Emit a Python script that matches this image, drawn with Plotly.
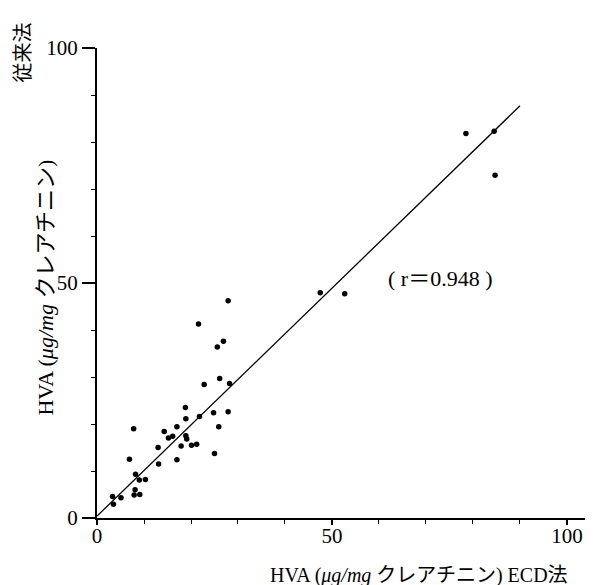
import plotly.graph_objects as go

# ECD method (x) vs conventional method (y), HVA μg/mg creatinine
ecd = [3.3, 3.5, 5.1, 7.9, 8.1, 9.1, 8.2, 9.0, 10.3, 6.9, 13.1, 17.0, 7.8,
       13.0, 17.9, 20.1, 21.2, 25.0, 14.3, 15.2, 16.1, 17.0, 18.9, 19.1, 25.9,
       18.8, 18.9, 21.8, 24.8, 27.9, 22.8, 26.1, 28.2, 25.6, 26.9, 21.6, 27.9,
       47.5, 52.7, 78.5, 84.5, 84.7]
conventional = [4.6, 2.9, 4.3, 4.9, 6.0, 5.0, 9.3, 8.1, 8.2, 12.5, 11.5, 12.4, 19.0,
                15.0, 15.3, 15.5, 15.7, 13.7, 18.4, 17.0, 17.4, 19.4, 17.5, 16.8, 19.4,
                23.5, 21.1, 21.6, 22.4, 22.6, 28.4, 29.7, 28.6, 36.4, 37.6, 41.3, 46.2,
                47.9, 47.7, 81.8, 82.3, 72.9]

# regression line
slope = 0.97
intercept = 0.4
line_x = [0, 90]
r_text = "( r＝0.948 )"

x_ticks = [0, 50, 100]
y_ticks = [0, 50, 100]

serif = "Liberation Serif, Noto Sans CJK JP, serif"

fig = go.Figure()
fig.add_trace(go.Scatter(
    x=line_x, y=[intercept + slope * v for v in line_x],
    mode="lines", line=dict(color="black", width=1.3),
    hoverinfo="skip", showlegend=False))
fig.add_trace(go.Scatter(
    x=ecd, y=conventional, mode="markers",
    marker=dict(color="black", size=5.5),
    showlegend=False, cliponaxis=False))

axis_common = dict(
    showline=True, linecolor="black", linewidth=2,
    showgrid=False, zeroline=False,
    ticks="outside", tickcolor="black", tickwidth=1.5,
    tickfont=dict(family=serif, size=21, color="black"),
    minor=dict(dtick=10, ticks="outside", ticklen=4, tickcolor="black", tickwidth=1),
)

fig.update_xaxes(range=[0, 106.6], tickvals=x_ticks, ticktext=[str(v) for v in x_ticks],
                 ticklen=5, ticklabelstandoff=-7, **axis_common)
fig.update_yaxes(range=[0, 100], tickvals=y_ticks, ticktext=[str(v) for v in y_ticks],
                 ticklen=13, **axis_common)

fig.add_annotation(x=73, y=50.9, xref="x", yref="y", text=r_text, showarrow=False,
                   xanchor="center", yanchor="middle",
                   font=dict(family=serif, size=22, color="black"))

fig.add_annotation(x=0.643, y=-0.123, xref="paper", yref="paper",
                   xanchor="center", yanchor="middle",
                   text="HVA (<i>μg/mg</i> クレアチニン) ECD法", showarrow=False,
                   font=dict(family=serif, size=20, color="black"))
fig.add_annotation(x=-0.102, y=0.49, xref="paper", yref="paper", textangle=-90,
                   xanchor="center", yanchor="middle",
                   text="HVA (<i>μg/mg</i> クレアチニン)",
                   showarrow=False,
                   font=dict(family=serif, size=22, color="black"))
fig.add_annotation(x=-0.148, y=0.99, xref="paper", yref="paper", textangle=-90,
                   xanchor="center", yanchor="middle",
                   text="従来法", showarrow=False,
                   font=dict(family=serif, size=20, color="black"))

fig.update_layout(
    width=593, height=585,
    margin=dict(l=89, r=3, t=40, b=75),
    plot_bgcolor="white", paper_bgcolor="white",
)

fig.write_html("out.html")
